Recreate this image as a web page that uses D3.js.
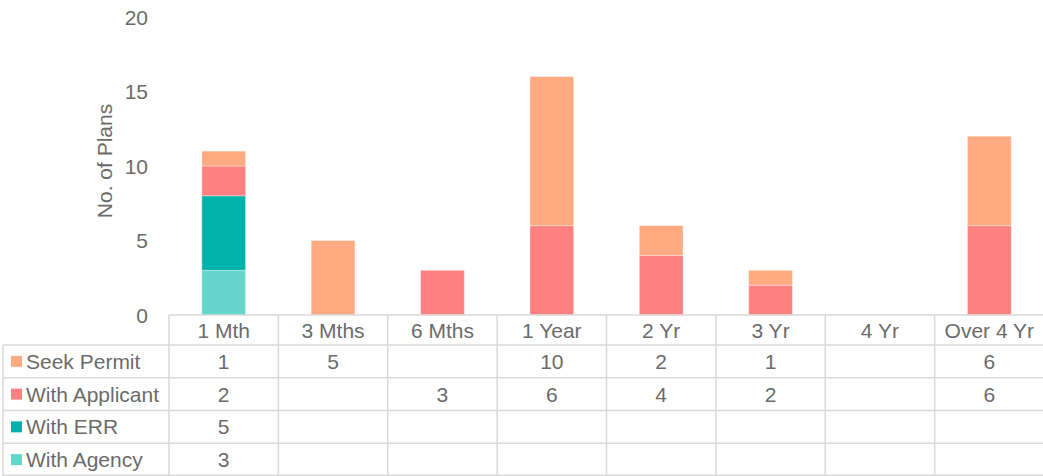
<!DOCTYPE html>
<html>
<head>
<meta charset="utf-8">
<script src="https://cdn.jsdelivr.net/npm/d3@7"></script>
<style>
  body { margin: 0; background: #fff; }
  text { font-family: "Liberation Sans", Arial, sans-serif; fill: #6b6b6b; }
</style>
</head>
<body>
<div id="chart"></div>
<script>
const categories = ["1 Mth", "3 Mths", "6 Mths", "1 Year", "2 Yr", "3 Yr", "4 Yr", "Over 4 Yr"];
const seekPermit = [1, 5, null, 10, 2, 1, null, 6];
const withApplicant = [2, null, 3, 6, 4, 2, null, 6];
const withERR = [5, null, null, null, null, null, null, null];
const withAgency = [3, null, null, null, null, null, null, null];
const seriesNames = ["Seek Permit", "With Applicant", "With ERR", "With Agency"];
const seriesColors = ["#FFAA80", "#FF8080", "#00B2A9", "#66D5CB"];
const yTicks = [0, 5, 10, 15, 20];

const width = 1043;
const height = 476;
const plotLeft = 169;
const plotRight = 1044;
const plotTop = 17;
const plotBottom = 315;
const headerH = 30;
const rowH = 32.75;
const tableLeft = 3;
const fontSize = "21px";

const series = [seekPermit, withApplicant, withERR, withAgency];

const svg = d3.select("#chart")
  .append("svg")
  .attr("width", width)
  .attr("height", height);

const x = d3.scaleBand()
  .domain(categories)
  .range([plotLeft, plotRight])
  .paddingInner(0)
  .paddingOuter(0);

const y = d3.scaleLinear()
  .domain([0, 20])
  .range([plotBottom, plotTop]);

// Y axis labels
svg.append("g")
  .selectAll("text")
  .data(yTicks)
  .enter()
  .append("text")
  .attr("x", 148)
  .attr("y", d => y(d))
  .attr("dy", "0.36em")
  .attr("text-anchor", "end")
  .style("font-size", fontSize)
  .text(d => d);

svg.append("text")
  .attr("transform", "translate(112, 161) rotate(-90)")
  .attr("text-anchor", "middle")
  .style("font-size", fontSize)
  .text("No. of Plans");

// Stacked bars, bottom-up: Agency, ERR, Applicant, Seek Permit
const table = categories.map((c, i) => {
  const row = { category: c };
  seriesNames.forEach((s, j) => { row[s] = series[j][i] || 0; });
  return row;
});

const stackKeys = seriesNames.slice().reverse();
const stacked = d3.stack().keys(stackKeys)(table);
const color = d3.scaleOrdinal().domain(seriesNames).range(seriesColors);

const barW = x.bandwidth() * 0.4;

svg.append("g")
  .selectAll("g")
  .data(stacked)
  .enter()
  .append("g")
  .attr("fill", d => color(d.key))
  .selectAll("rect")
  .data(d => d.filter(p => p[1] > p[0]))
  .enter()
  .append("rect")
  .attr("x", d => x(d.data.category) + (x.bandwidth() - barW) / 2)
  .attr("y", d => y(d[1]))
  .attr("width", barW)
  .attr("height", d => y(d[0]) - y(d[1]))
  .attr("stroke", "#fff")
  .attr("stroke-opacity", 0.35)
  .attr("stroke-width", 1);

// Data table
const grid = svg.append("g")
  .attr("stroke", "#D9D9D9")
  .attr("stroke-width", 1.5);

const tableBottom = plotBottom + headerH + rowH * seriesNames.length;

// horizontal lines
grid.append("line")
  .attr("x1", plotLeft).attr("x2", plotRight)
  .attr("y1", plotBottom).attr("y2", plotBottom);
seriesNames.forEach((s, j) => {
  const yy = plotBottom + headerH + rowH * j;
  grid.append("line")
    .attr("x1", tableLeft).attr("x2", plotRight)
    .attr("y1", yy).attr("y2", yy);
});
grid.append("line")
  .attr("x1", tableLeft).attr("x2", plotRight)
  .attr("y1", tableBottom - 0.75).attr("y2", tableBottom - 0.75);

// vertical lines
grid.append("line")
  .attr("x1", tableLeft).attr("x2", tableLeft)
  .attr("y1", plotBottom + headerH).attr("y2", tableBottom);
categories.forEach(c => {
  grid.append("line")
    .attr("x1", x(c)).attr("x2", x(c))
    .attr("y1", plotBottom).attr("y2", tableBottom);
});

// header labels
svg.append("g")
  .selectAll("text")
  .data(categories)
  .enter()
  .append("text")
  .attr("x", d => x(d) + x.bandwidth() / 2)
  .attr("y", plotBottom + headerH / 2)
  .attr("dy", "0.36em")
  .attr("text-anchor", "middle")
  .style("font-size", fontSize)
  .text(d => d);

// row labels with legend keys
const rows = svg.append("g")
  .selectAll("g")
  .data(seriesNames)
  .enter()
  .append("g")
  .attr("transform", (d, j) => `translate(0, ${plotBottom + headerH + rowH * j + rowH / 2})`);

rows.append("rect")
  .attr("x", 11)
  .attr("y", -5.5)
  .attr("width", 11)
  .attr("height", 11)
  .attr("fill", d => color(d));

rows.append("text")
  .attr("x", 26)
  .attr("dy", "0.36em")
  .style("font-size", fontSize)
  .text(d => d);

// values
rows.each(function (name, j) {
  d3.select(this).selectAll("text.val")
    .data(series[j].map((v, i) => ({ v, c: categories[i] })).filter(d => d.v != null))
    .enter()
    .append("text")
    .attr("class", "val")
    .attr("x", d => x(d.c) + x.bandwidth() / 2)
    .attr("dy", "0.36em")
    .attr("text-anchor", "middle")
    .style("font-size", fontSize)
    .text(d => d.v);
});
</script>
</body>
</html>
